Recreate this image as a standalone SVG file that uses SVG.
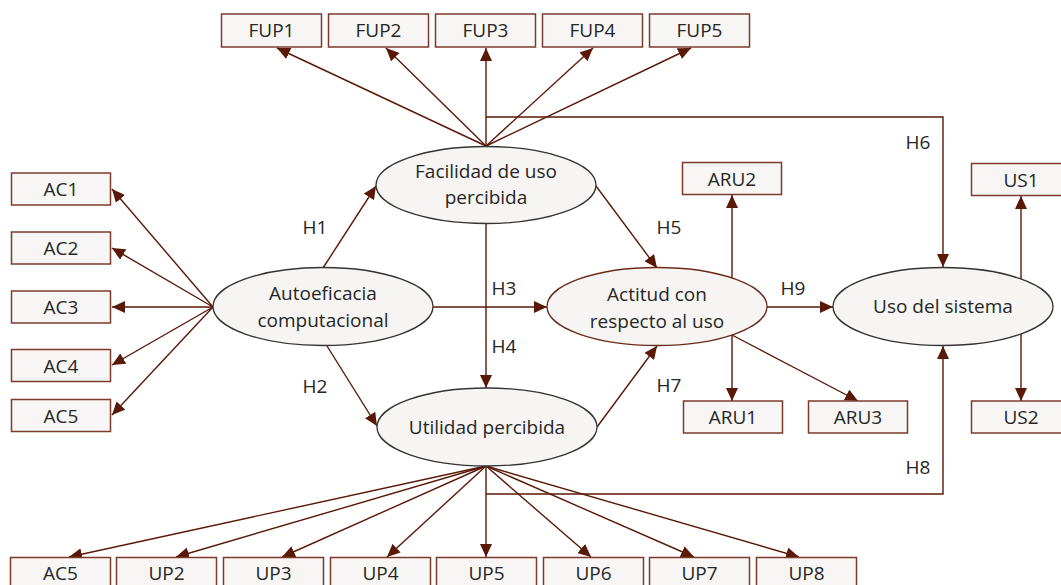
<svg xmlns="http://www.w3.org/2000/svg" width="1061" height="585" viewBox="0 0 1061 585">
<defs>
<marker id="ah" markerUnits="userSpaceOnUse" markerWidth="14" markerHeight="12" refX="13" refY="6" orient="auto">
<path d="M0,0 L13,6 L0,12 Z" fill="#5a1806"/>
</marker>
<style>
.c{fill:none;stroke:#5a1806;stroke-width:1.4;marker-end:url(#ah)}
.b{fill:#f7f6f4;stroke:#7b3a2c;stroke-width:1.5}
.e{fill:#f6f5f3;stroke:#333;stroke-width:1.3}
.eb{fill:#f6f5f3;stroke:#6a2a1a;stroke-width:1.3}
text{font-family:"Open Sans","Liberation Sans",sans-serif;font-size:19px;fill:#262626;text-anchor:middle}
</style>
</defs>
<rect width="1061" height="585" fill="#ffffff"/>
<g id="connectors">
<line class="c" x1="486" y1="146" x2="277" y2="48"/>
<line class="c" x1="486" y1="146" x2="386" y2="48"/>
<line class="c" x1="486" y1="146" x2="486" y2="48"/>
<line class="c" x1="486" y1="146" x2="593" y2="48"/>
<line class="c" x1="486" y1="146" x2="691" y2="48"/>
<polyline class="c" points="486,117 943,117 943,267"/>
<line class="c" x1="213" y1="307" x2="112" y2="189"/>
<line class="c" x1="213" y1="307" x2="112" y2="248"/>
<line class="c" x1="213" y1="307" x2="112" y2="307"/>
<line class="c" x1="213" y1="307" x2="112" y2="365"/>
<line class="c" x1="213" y1="307" x2="112" y2="415"/>
<line class="c" x1="323" y1="268" x2="376" y2="186"/>
<line class="c" x1="327" y1="346" x2="377" y2="426"/>
<line class="c" x1="433" y1="307" x2="547" y2="307"/>
<line class="c" x1="486" y1="224" x2="486" y2="388"/>
<line class="c" x1="596" y1="186" x2="657" y2="268"/>
<line class="c" x1="597" y1="427" x2="657" y2="346"/>
<line class="c" x1="767" y1="307" x2="833" y2="307"/>
<line class="c" x1="732" y1="279" x2="732" y2="195"/>
<line class="c" x1="732" y1="335" x2="732" y2="401"/>
<line class="c" x1="732" y1="335" x2="858" y2="401"/>
<line class="c" x1="1021" y1="279" x2="1021" y2="196"/>
<line class="c" x1="1021" y1="334" x2="1021" y2="401"/>
<polyline class="c" points="486,494 943,494 943,346"/>
<line class="c" x1="486" y1="466" x2="69" y2="557"/>
<line class="c" x1="486" y1="466" x2="176" y2="557"/>
<line class="c" x1="486" y1="466" x2="282" y2="557"/>
<line class="c" x1="486" y1="466" x2="387" y2="557"/>
<line class="c" x1="486" y1="466" x2="486" y2="557"/>
<line class="c" x1="486" y1="466" x2="591" y2="557"/>
<line class="c" x1="486" y1="466" x2="694" y2="557"/>
<line class="c" x1="486" y1="466" x2="799" y2="557"/>
</g>
<g id="labels">
<text x="315" y="234">H1</text>
<text x="315" y="393">H2</text>
<text x="504" y="295">H3</text>
<text x="504" y="353">H4</text>
<text x="669" y="234">H5</text>
<text x="918" y="149">H6</text>
<text x="669" y="392">H7</text>
<text x="918" y="474">H8</text>
<text x="793" y="295">H9</text>
</g>
<g id="n-fup1"><rect class="b" x="221.5" y="14" width="100" height="33"/><text x="271.5" y="37">FUP1</text></g>
<g id="n-fup2"><rect class="b" x="328.5" y="14" width="100" height="33"/><text x="378.5" y="37">FUP2</text></g>
<g id="n-fup3"><rect class="b" x="435.5" y="14" width="100" height="33"/><text x="485.5" y="37">FUP3</text></g>
<g id="n-fup4"><rect class="b" x="542.5" y="14" width="100" height="33"/><text x="592.5" y="37">FUP4</text></g>
<g id="n-fup5"><rect class="b" x="649.5" y="14" width="100" height="33"/><text x="699.5" y="37">FUP5</text></g>
<g id="n-ac1"><rect class="b" x="11.5" y="173" width="99" height="32"/><text x="61" y="196">AC1</text></g>
<g id="n-ac2"><rect class="b" x="11.5" y="232" width="99" height="32"/><text x="61" y="255">AC2</text></g>
<g id="n-ac3"><rect class="b" x="11.5" y="291" width="99" height="32"/><text x="61" y="314">AC3</text></g>
<g id="n-ac4"><rect class="b" x="11.5" y="349.5" width="99" height="32"/><text x="61" y="372.5">AC4</text></g>
<g id="n-ac5"><rect class="b" x="11.5" y="399.5" width="99" height="32"/><text x="61" y="422.5">AC5</text></g>
<g id="n-aru2"><rect class="b" x="682.5" y="162.5" width="99" height="32"/><text x="732" y="185.5">ARU2</text></g>
<g id="n-aru1"><rect class="b" x="683.5" y="401" width="99" height="32"/><text x="733" y="424">ARU1</text></g>
<g id="n-aru3"><rect class="b" x="808.5" y="401" width="99" height="32"/><text x="858" y="424">ARU3</text></g>
<g id="n-us1"><rect class="b" x="971.5" y="163.5" width="99" height="32"/><text x="1021" y="186.5">US1</text></g>
<g id="n-us2"><rect class="b" x="971.5" y="401" width="99" height="32"/><text x="1021" y="424">US2</text></g>
<g id="n-fac"><ellipse class="e" cx="486" cy="185" rx="110" ry="38.5"/><text x="486" y="178">Facilidad de uso</text><text x="486" y="204">percibida</text></g>
<g id="n-auto"><ellipse class="e" cx="323" cy="306.5" rx="110" ry="39"/><text x="323" y="300">Autoeficacia</text><text x="323" y="327">computacional</text></g>
<g id="n-act"><ellipse class="eb" cx="657" cy="306.5" rx="110" ry="39"/><text x="657" y="301">Actitud con</text><text x="657" y="328">respecto al uso</text></g>
<g id="n-uso"><ellipse class="e" cx="943" cy="306.5" rx="110" ry="39"/><text x="943" y="313">Uso del sistema</text></g>
<g id="n-util"><ellipse class="e" cx="487" cy="427" rx="110" ry="39"/><text x="487" y="434">Utilidad percibida</text></g>
<g id="n-b-ac5"><rect class="b" x="10.5" y="557.5" width="100" height="33"/><text x="60.5" y="580">AC5</text></g>
<g id="n-up2"><rect class="b" x="116.5" y="557.5" width="100" height="33"/><text x="166.5" y="580">UP2</text></g>
<g id="n-up3"><rect class="b" x="223.5" y="557.5" width="100" height="33"/><text x="273.5" y="580">UP3</text></g>
<g id="n-up4"><rect class="b" x="330.5" y="557.5" width="100" height="33"/><text x="380.5" y="580">UP4</text></g>
<g id="n-up5"><rect class="b" x="436.5" y="557.5" width="100" height="33"/><text x="486.5" y="580">UP5</text></g>
<g id="n-up6"><rect class="b" x="543.5" y="557.5" width="100" height="33"/><text x="593.5" y="580">UP6</text></g>
<g id="n-up7"><rect class="b" x="649.5" y="557.5" width="100" height="33"/><text x="699.5" y="580">UP7</text></g>
<g id="n-up8"><rect class="b" x="756.5" y="557.5" width="100" height="33"/><text x="806.5" y="580">UP8</text></g>
</svg>
